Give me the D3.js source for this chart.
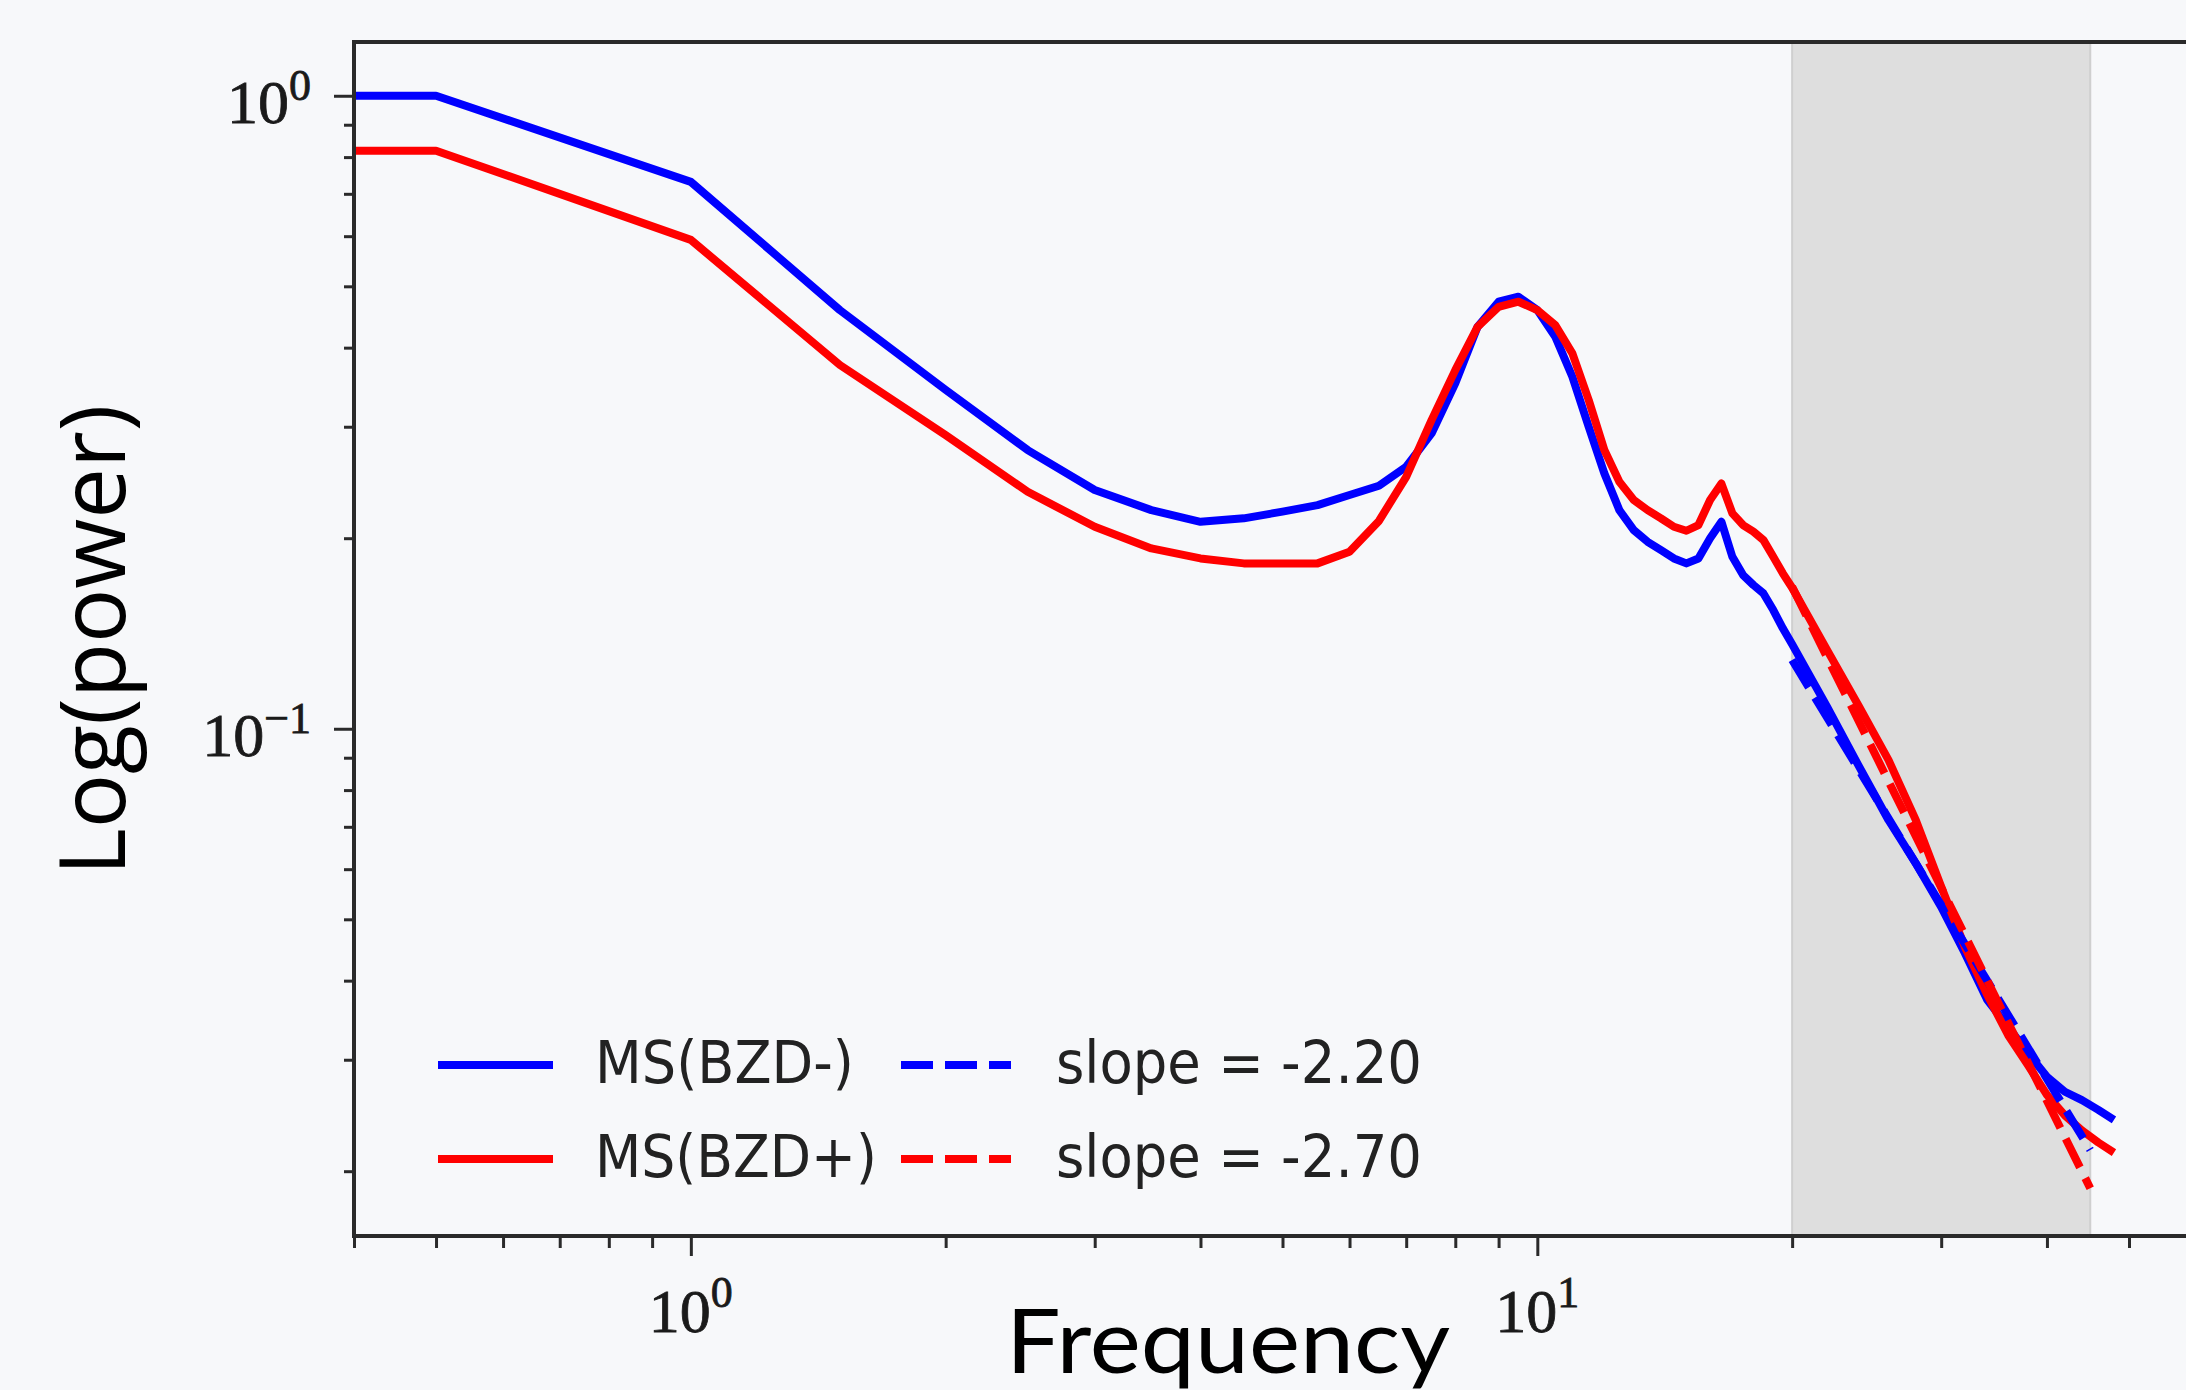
<!DOCTYPE html>
<html>
<head>
<meta charset="utf-8">
<script src="https://cdn.jsdelivr.net/npm/d3@7"></script>
<style>
  html, body { margin: 0; padding: 0; background: #f7f8fa; }
  svg { display: block; }
</style>
</head>
<body>
<svg width="2186" height="1390"></svg>
<script>
// power spectra (Hz, power)
var freqs = [0.25, 0.5, 1.0, 1.5, 2.0, 2.5, 3.0, 3.5, 4.0, 4.5, 5.0, 5.5, 6.0, 6.5,
  7.0, 7.5, 8.0, 8.5, 9.0, 9.5, 10.0, 10.5, 11.0, 11.5, 12.0, 12.5, 13.0, 13.5,
  14.0, 14.5, 15.0, 15.5, 16.0, 16.5, 17.0, 17.5, 18.0, 18.5, 19.0, 19.5, 20.0,
  22, 24, 26, 28, 30, 32, 34, 36, 38, 40, 42, 44, 46, 48];

var bzdMinus = [1.0, 1.0, 0.731, 0.4585, 0.343, 0.2756, 0.2383, 0.2215, 0.2123, 0.215,
  0.2203, 0.2256, 0.234, 0.242, 0.2594, 0.2928, 0.3513, 0.4315, 0.4727, 0.4814,
  0.4585, 0.4163, 0.3598, 0.300, 0.2532, 0.2215, 0.206, 0.1974, 0.1915, 0.1858,
  0.1825, 0.1858, 0.1999, 0.2123, 0.1869, 0.1749, 0.1687, 0.1636, 0.154, 0.1441,
  0.136, 0.1083, 0.0871, 0.0717, 0.0613, 0.0523, 0.0442, 0.0373, 0.0338, 0.0307,
  0.0282, 0.0267, 0.0259, 0.025, 0.0241];

var bzdPlus = [0.819, 0.819, 0.592, 0.3755, 0.291, 0.2368, 0.2085, 0.1927, 0.1858, 0.1825,
  0.1825, 0.1825, 0.1904, 0.213, 0.25, 0.3073, 0.3686, 0.4315, 0.464, 0.4727,
  0.4585, 0.4342, 0.3918, 0.3306, 0.2756, 0.2456, 0.2298, 0.2215, 0.215, 0.2085,
  0.2055, 0.2098, 0.2298, 0.244, 0.2189, 0.2098, 0.2048, 0.1986, 0.1869, 0.176,
  0.167, 0.1331, 0.1083, 0.0892, 0.0717, 0.0563, 0.0452, 0.038, 0.0328, 0.0294,
  0.0264, 0.0245, 0.0232, 0.0222, 0.0214];

// fitted power laws, end points [Hz, power]
var fitMinus = [[20, 0.1284], [45, 0.0216]];
var fitPlus = [[20, 0.1676], [45, 0.0188]];

var fitBand = [20, 45];
var seriesLabels = ['MS(BZD-)', 'MS(BZD+)'];
var fitLabels = ['slope = -2.20', 'slope = -2.70'];

var xMajor = [1, 10];
var xMajorLabels = [['10', '0'], ['10', '1']];
var yMajor = [1, 0.1];
var yMajorLabels = [['10', '0'], ['10', '\u22121']];

(function (d3) {
  var svg = d3.select('svg')
    , left = 354, right = 2196, top = 42, bottom = 1236
    , blue = '#0000ff', red = '#ff0000', ink = '#2a2a2a'
    ;

  var x = d3.scaleLog().domain([0.4, 60]).range([left, right]);
  var y = d3.scaleLog().domain([0.0158, 1.216]).range([bottom, top]);

  svg.append('rect')
     .attr('width', 2186)
     .attr('height', 1390)
     .style('fill', '#f7f8fa');

  svg.append('clipPath')
     .attr('id', 'plot')
     .append('rect')
     .attr('x', left)
     .attr('y', top)
     .attr('width', right - left)
     .attr('height', bottom - top);

  svg.append('rect')
     .attr('x', x(fitBand[0]))
     .attr('y', top)
     .attr('width', x(fitBand[1]) - x(fitBand[0]))
     .attr('height', bottom - top)
     .style('fill', '#dedede')
     .style('stroke', '#cfcfcf')
     .style('stroke-width', 2);

  // minor ticks: 2..9 times each decade
  var xMinor = [], yMinor = [];
  [0.1, 1, 10].forEach(function (d) {
    d3.range(2, 10).forEach(function (k) {
      var v = +(d * k).toFixed(3);
      if (v >= 0.4 && v <= 60 && v !== 1 && v !== 10) xMinor.push(v);
    });
  });
  [0.01, 0.1].forEach(function (d) {
    d3.range(2, 10).forEach(function (k) {
      var v = +(d * k).toFixed(3);
      if (v >= 0.0158 && v <= 1.216) yMinor.push(v);
    });
  });

  function tickStyle(g) {
    g.select('.domain').remove();
    g.selectAll('.tick line').attr('stroke', ink).attr('stroke-width', 3);
  }

  svg.append('g')
     .attr('transform', 'translate(0,' + bottom + ')')
     .call(d3.axisBottom(x).tickValues(xMinor).tickSize(12).tickFormat(''))
     .call(tickStyle);
  svg.append('g')
     .attr('transform', 'translate(0,' + bottom + ')')
     .call(d3.axisBottom(x).tickValues(xMajor).tickSize(20).tickFormat(''))
     .call(tickStyle);
  svg.append('g')
     .attr('transform', 'translate(' + left + ',0)')
     .call(d3.axisLeft(y).tickValues(yMinor).tickSize(10).tickFormat(''))
     .call(tickStyle);
  svg.append('g')
     .attr('transform', 'translate(' + left + ',0)')
     .call(d3.axisLeft(y).tickValues(yMajor).tickSize(20).tickFormat(''))
     .call(tickStyle);

  // tick labels as 10^n
  xMajor.forEach(function (v, i) {
    var t = svg.append('text')
       .attr('x', x(v))
       .attr('y', 1332)
       .attr('text-anchor', 'middle')
       .attr('font-family', '"Liberation Serif", serif')
       .attr('font-size', '62px')
       .attr('fill', '#1a1a1a')
       .attr('stroke', '#1a1a1a')
       .attr('stroke-width', 0.8);
    t.append('tspan').text(xMajorLabels[i][0]);
    t.append('tspan').attr('dy', -25).attr('font-size', '44px').text(xMajorLabels[i][1]);
  });
  yMajor.forEach(function (v, i) {
    var t = svg.append('text')
       .attr('x', 311)
       .attr('y', y(v) + 27)
       .attr('text-anchor', 'end')
       .attr('font-family', '"Liberation Serif", serif')
       .attr('font-size', '62px')
       .attr('fill', '#1a1a1a')
       .attr('stroke', '#1a1a1a')
       .attr('stroke-width', 0.8);
    t.append('tspan').text(yMajorLabels[i][0]);
    t.append('tspan').attr('dy', -23).attr('font-size', '44px').text(yMajorLabels[i][1]);
  });

  var line = d3.line()
    .x(function (d) { return x(d[0]); })
    .y(function (d) { return y(d[1]); });

  var plot = svg.append('g').attr('clip-path', 'url(#plot)');

  [[bzdMinus, blue], [bzdPlus, red]].forEach(function (s) {
    plot.append('path')
        .datum(freqs.map(function (f, i) { return [f, s[0][i]]; }))
        .attr('d', line)
        .style('fill', 'none')
        .style('stroke', s[1])
        .style('stroke-width', 8)
        .style('stroke-linejoin', 'round');
  });

  [[fitMinus, blue], [fitPlus, red]].forEach(function (s) {
    plot.append('path')
        .datum(s[0])
        .attr('d', line)
        .style('fill', 'none')
        .style('stroke', s[1])
        .style('stroke-width', 8)
        .style('stroke-dasharray', '32,12');
  });

  // spines (no right spine in view)
  svg.append('path')
     .attr('d', 'M2186,' + top + 'H' + left + 'V' + bottom + 'H2186')
     .style('fill', 'none')
     .style('stroke', ink)
     .style('stroke-width', 4);

  // legend, two columns
  var rows = [1065, 1159], colors = [blue, red];
  var labelLen = [259, 282];
  rows.forEach(function (ry, i) {
    svg.append('line')
       .attr('x1', 438).attr('x2', 553)
       .attr('y1', ry).attr('y2', ry)
       .style('stroke', colors[i])
       .style('stroke-width', 8);
    svg.append('text')
       .attr('x', 595)
       .attr('y', ry + 18)
       .attr('textLength', labelLen[i])
       .attr('lengthAdjust', 'spacingAndGlyphs')
       .attr('font-family', '"DejaVu Sans", sans-serif')
       .attr('font-size', '59px')
       .attr('fill', '#222')
       .text(seriesLabels[i]);
    svg.append('line')
       .attr('x1', 901).attr('x2', 1011)
       .attr('y1', ry).attr('y2', ry)
       .style('stroke', colors[i])
       .style('stroke-width', 8)
       .style('stroke-dasharray', '32,12');
    svg.append('text')
       .attr('x', 1056)
       .attr('y', ry + 18)
       .attr('textLength', 366)
       .attr('lengthAdjust', 'spacingAndGlyphs')
       .attr('font-family', '"DejaVu Sans", sans-serif')
       .attr('font-size', '59px')
       .attr('fill', '#222')
       .text(fitLabels[i]);
  });

  svg.append('text')
     .attr('x', 1228)
     .attr('y', 1373)
     .attr('text-anchor', 'middle')
     .attr('textLength', 444)
     .attr('lengthAdjust', 'spacingAndGlyphs')
     .attr('font-family', 'Lato, sans-serif')
     .attr('font-size', '90px')
     .attr('fill', '#000')
     .text('Frequency');

  svg.append('text')
     .attr('transform', 'translate(125,640) rotate(-90)')
     .attr('text-anchor', 'middle')
     .attr('textLength', 471)
     .attr('lengthAdjust', 'spacingAndGlyphs')
     .attr('font-family', '"Open Sans", sans-serif')
     .attr('font-size', '92px')
     .attr('fill', '#000')
     .text('Log(power)');
})(d3);
</script>
</body>
</html>
